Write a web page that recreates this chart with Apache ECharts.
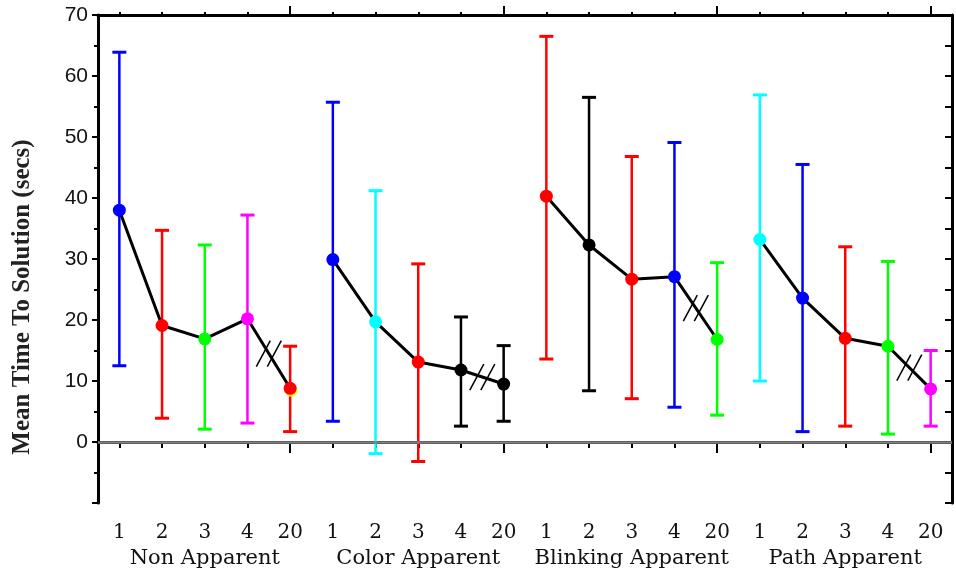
<!DOCTYPE html>
<html><head><meta charset="utf-8">
<script src="https://cdn.jsdelivr.net/npm/echarts@6/dist/echarts.min.js"></script>
<style>html,body{margin:0;padding:0;background:#fff}#c{width:956px;height:573px}</style>
</head><body><div id="c"></div>
<script>
// ---- data ----
const groups = ['Non Apparent', 'Color Apparent', 'Blinking Apparent', 'Path Apparent'];
const levels = ['1', '2', '3', '4', '20'];

const meanNon   = [38.0, 19.1, 16.9, 20.2, 8.8];
const lowNon    = [12.5, 3.9, 2.1, 3.1, 1.7];
const highNon   = [63.9, 34.7, 32.3, 37.2, 15.7];

const meanColor = [29.9, 19.7, 13.1, 11.8, 9.5];
const lowColor  = [3.4, -1.9, -3.2, 2.6, 3.4];
const highColor = [55.7, 41.2, 29.2, 20.5, 15.8];

const meanBlink = [40.3, 32.3, 26.7, 27.1, 16.8];
const lowBlink  = [13.6, 8.4, 7.1, 5.7, 4.4];
const highBlink = [66.5, 56.5, 46.8, 49.1, 29.4];

const meanPath  = [33.2, 23.6, 17.0, 15.7, 8.7];
const lowPath   = [10.0, 1.7, 2.6, 1.3, 2.6];
const highPath  = [56.9, 45.5, 32.0, 29.6, 15.0];

const yTickLabels = ['0', '10', '20', '30', '40', '50', '60', '70'];

// ---- styles (kept separate from data) ----
const B = '#0000ff', R = '#ff0000', G = '#00ff00', M = '#ff00ff', C = '#00ffff', K = '#000000';
const colorNon = [B, R, G, M, R];
const colorColor = [B, C, R, K, K];
const colorBlink = [R, K, R, B, G];
const colorPath = [C, B, R, G, M];

// ---- build ----
const means = [meanNon, meanColor, meanBlink, meanPath];
const lows = [lowNon, lowColor, lowBlink, lowPath];
const highs = [highNon, highColor, highBlink, highPath];
const colorSets = [colorNon, colorColor, colorBlink, colorPath];

const cats = [];
groups.forEach(g => levels.forEach(l => cats.push(g + '|' + l)));
const pointColors = [].concat(...colorSets);
const allMeans = [].concat(...means);
const errData = [];
means.forEach((arr, gi) => arr.forEach((v, li) => {
  errData.push([gi * levels.length + li, lows[gi][li], highs[gi][li]]);
}));
const scatterData = allMeans.map((v, i) => [i, v]);

const lineSeries = means.map((arr, gi) => ({
  type: 'line', xAxisIndex: 0, yAxisIndex: 0, z: 3,
  data: cats.map((c, i) => (Math.floor(i / levels.length) === gi ? [i, allMeans[i]] : null)).filter(d => d),
  symbol: 'none', lineStyle: { color: '#000', width: 3 }, silent: true,
  markLine: gi === 0 ? {
    silent: true, symbol: 'none', label: { show: false },
    lineStyle: { color: '#808080', width: 2.5, type: 'solid' },
    data: [{ yAxis: 0 }]
  } : undefined
}));

// break marks between "4" and "20" in each group
const breakData = means.map((arr, gi) => {
  const i4 = gi * levels.length + 3, i20 = gi * levels.length + 4;
  return [i4, allMeans[i4], i20, allMeans[i20]];
});

const serifFont = 'DejaVu Serif';
const chart = echarts.init(document.getElementById('c'), null, { renderer: 'canvas' });

const baseCatAxis = {
  type: 'category', data: cats, boundaryGap: true, gridIndex: 0
};

chart.setOption({
  animation: false,
  backgroundColor: '#fff',
  grid: { left: 98, right: 4, top: 15, bottom: 70, containLabel: false },
  xAxis: [
    Object.assign({}, baseCatAxis, {
      position: 'bottom',
      axisLine: { show: true, lineStyle: { color: '#000', width: 3 } },
      axisTick: { show: true, alignWithLabel: true, interval: 0, length: 6, lineStyle: { color: '#000', width: 2 } },
      axisLabel: {
        interval: 0, margin: 20, color: '#111',
        fontFamily: serifFont, fontSize: 20,
        formatter: v => v.split('|')[1]
      }
    }),
    Object.assign({}, baseCatAxis, {
      position: 'bottom',
      axisLine: { show: false },
      axisTick: { show: true, alignWithLabel: true, length: 11, lineStyle: { color: '#000', width: 2 },
        interval: (i) => i % levels.length === levels.length - 1 },
      axisLabel: { show: false }
    }),
    Object.assign({}, baseCatAxis, {
      position: 'top',
      axisLine: { show: true, lineStyle: { color: '#000', width: 3 } },
      axisTick: { show: true, alignWithLabel: true, interval: 0, length: 3, lineStyle: { color: '#000', width: 2 } },
      axisLabel: { show: false }
    }),
    Object.assign({}, baseCatAxis, {
      position: 'top',
      axisLine: { show: false },
      axisTick: { show: true, alignWithLabel: true, length: 9, lineStyle: { color: '#000', width: 2 },
        interval: (i) => i % levels.length === levels.length - 1 },
      axisLabel: { show: false }
    }),
    {
      type: 'category', data: groups, position: 'bottom', offset: 37, gridIndex: 0,
      axisLine: { show: false }, axisTick: { show: false },
      axisLabel: { interval: 0, margin: 8, color: '#111', fontFamily: serifFont, fontSize: 21 }
    }
  ],
  yAxis: [
    {
      type: 'value', min: -10, max: 70, interval: 10, position: 'left',
      axisLine: { show: true, lineStyle: { color: '#000', width: 3 } },
      axisTick: { show: true, length: 6, lineStyle: { color: '#000', width: 2 } },
      minorTick: { show: true, splitNumber: 2, length: 4, lineStyle: { color: '#000', width: 2 } },
      splitLine: { show: false }, minorSplitLine: { show: false },
      axisLabel: {
        margin: 10, color: '#111', fontFamily: 'Liberation Sans', fontSize: 21,
        formatter: v => (yTickLabels.indexOf(String(v)) >= 0 ? String(v) : '')
      }
    },
    {
      type: 'value', min: -10, max: 70, interval: 5, position: 'right',
      axisLine: { show: true, lineStyle: { color: '#000', width: 3 } },
      axisTick: { show: true, inside: true, length: 7, lineStyle: { color: '#000', width: 2 } },
      splitLine: { show: false },
      axisLabel: { show: false }
    }
  ],
  graphic: [{
    type: 'text', x: 23, y: 297, rotation: Math.PI / 2,
    style: {
      text: 'Mean Time To Solution (secs)', fill: '#222',
      font: 'bold 25px "Liberation Serif"', textAlign: 'center', textVerticalAlign: 'middle'
    }
  }],
  series: [
    {
      type: 'custom', xAxisIndex: 0, yAxisIndex: 0, z: 2, silent: true,
      data: errData,
      renderItem: (params, api) => {
        const x = api.value(0);
        const pLo = api.coord([x, api.value(1)]);
        const pHi = api.coord([x, api.value(2)]);
        const w = 7;
        const col = pointColors[params.dataIndex];
        return {
          type: 'group', children: [
            { type: 'line', shape: { x1: pHi[0], y1: pHi[1], x2: pLo[0], y2: pLo[1] }, style: { stroke: col, lineWidth: 2.5 } },
            { type: 'line', shape: { x1: pHi[0] - w, y1: pHi[1], x2: pHi[0] + w, y2: pHi[1] }, style: { stroke: col, lineWidth: 3 } },
            { type: 'line', shape: { x1: pLo[0] - w, y1: pLo[1], x2: pLo[0] + w, y2: pLo[1] }, style: { stroke: col, lineWidth: 3 } }
          ]
        };
      }
    },
    ...lineSeries,
    {
      type: 'scatter', xAxisIndex: 0, yAxisIndex: 0, z: 3, silent: true,
      data: [scatterData[4]], symbol: 'circle', symbolSize: 13, symbolOffset: [1, 2],
      itemStyle: { color: '#ffff00' }
    },
    {
      type: 'scatter', xAxisIndex: 0, yAxisIndex: 0, z: 4, silent: true,
      data: scatterData, symbol: 'circle', symbolSize: 13,
      itemStyle: { color: p => pointColors[p.dataIndex], opacity: 1 }
    },
    {
      type: 'custom', xAxisIndex: 0, yAxisIndex: 0, z: 5, silent: true,
      data: breakData,
      renderItem: (params, api) => {
        const a = api.coord([api.value(0), api.value(1)]);
        const b = api.coord([api.value(2), api.value(3)]);
        const cx = (a[0] + b[0]) / 2, cy = (a[1] + b[1]) / 2;
        const dx = 7, dy = 13, sep = 5.5;
        return {
          type: 'group', children: [
            { type: 'line', shape: { x1: cx - sep - dx, y1: cy + dy, x2: cx - sep + dx, y2: cy - dy }, style: { stroke: '#000', lineWidth: 1.5 } },
            { type: 'line', shape: { x1: cx + sep - dx, y1: cy + dy, x2: cx + sep + dx, y2: cy - dy }, style: { stroke: '#000', lineWidth: 1.5 } }
          ]
        };
      }
    }
  ]
});
</script>
</body></html>
